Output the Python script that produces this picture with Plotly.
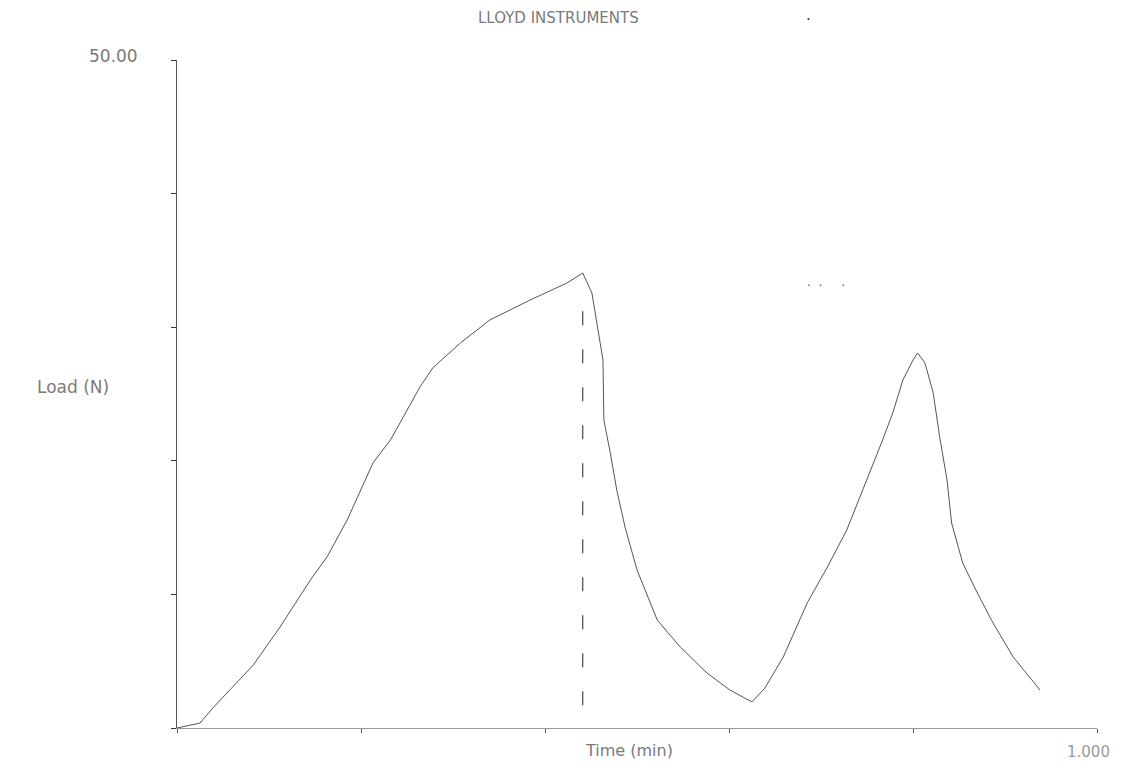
import plotly.graph_objects as go

# Load trace (Time in min, Load in N)
time_min = [0.000, 0.025, 0.039, 0.083, 0.112, 0.145, 0.163, 0.185, 0.213, 0.232,
            0.246, 0.264, 0.278, 0.308, 0.340, 0.384, 0.424, 0.441, 0.451, 0.458,
            0.463, 0.464, 0.471, 0.478, 0.487, 0.500, 0.522, 0.547, 0.576, 0.601,
            0.625, 0.639, 0.659, 0.685, 0.707, 0.728, 0.750, 0.767, 0.778, 0.789,
            0.800, 0.805, 0.813, 0.822, 0.829, 0.837, 0.842, 0.854, 0.870, 0.887,
            0.909, 0.938]
load_n = [0.00, 0.37, 1.50, 4.72, 7.56, 11.08, 12.80, 15.57, 19.84, 21.56,
          23.28, 25.52, 26.95, 28.82, 30.54, 32.04, 33.31, 34.06, 32.56, 29.79,
          27.54, 23.05, 20.58, 17.81, 15.04, 11.83, 8.08, 6.06, 4.12, 2.84,
          1.95, 2.99, 5.31, 9.36, 12.05, 14.82, 18.56, 21.56, 23.58, 26.05,
          27.54, 28.07, 27.32, 25.07, 21.78, 18.56, 15.34, 12.35, 10.10, 7.86,
          5.31, 2.84]

marker_time = [0.441, 0.441]
marker_load = [1.7, 31.3]

x_ticks = [0.0, 0.2, 0.4, 0.6, 0.8, 1.0]
y_ticks = [0, 10, 20, 30, 40, 50]
y_max_label = "50.00"
x_max_label = "1.000"

fig = go.Figure()
fig.add_trace(go.Scatter(x=time_min, y=load_n, mode="lines",
                         line=dict(color="#555555", width=1), showlegend=False))
fig.add_trace(go.Scatter(x=marker_time, y=marker_load, mode="lines",
                         line=dict(color="#444444", width=1.2, dash="14px,24px"),
                         showlegend=False))

fnt = "DejaVu Sans"
gray = "#7a7a7a"
fig.update_layout(
    width=1139, height=778,
    margin=dict(l=177, r=42, t=60, b=50),
    paper_bgcolor="white", plot_bgcolor="white",
    xaxis=dict(range=[0, 1.0], tickvals=x_ticks, showticklabels=False,
               ticks="outside", ticklen=4, tickcolor="#555", showgrid=False,
               zeroline=False, showline=True, linecolor="#999", linewidth=1),
    yaxis=dict(range=[0, 50], tickvals=y_ticks, showticklabels=False,
               ticks="outside", ticklen=5, tickcolor="#333", showgrid=False,
               zeroline=False, showline=True, linecolor="#555", linewidth=1),
    annotations=[
        dict(text="LLOYD INSTRUMENTS", xref="paper", yref="paper", x=0.415, y=1.0,
             yshift=42, showarrow=False, font=dict(family=fnt, size=15, color=gray),
             xanchor="center", yanchor="middle"),
        dict(text=".", xref="paper", yref="paper", x=0.686, y=1.0,
             yshift=45, showarrow=False, font=dict(family=fnt, size=15, color="#333"),
             xanchor="center", yanchor="middle"),
        dict(text=".  .     .", xref="paper", yref="paper", x=0.705, y=0.667,
             showarrow=False, font=dict(family=fnt, size=12, color="#555"),
             xanchor="center", yanchor="middle"),
        dict(text=y_max_label, xref="paper", yref="paper", x=0, y=1.0, xshift=-37,
             yshift=4, showarrow=False, font=dict(family=fnt, size=17, color=gray),
             xanchor="right", yanchor="middle"),
        dict(text="Load (N)", xref="paper", yref="paper", x=0, y=0.51, xshift=-66,
             showarrow=False, font=dict(family=fnt, size=17, color=gray),
             xanchor="right", yanchor="middle"),
        dict(text="Time (min)", xref="paper", yref="paper", x=0.491, y=0, yshift=-22,
             showarrow=False, font=dict(family=fnt, size=16, color=gray),
             xanchor="center", yanchor="middle"),
        dict(text=x_max_label, xref="paper", yref="paper", x=1.0, y=0, yshift=-24,
             xshift=-32, showarrow=False, font=dict(family=fnt, size=15, color="#999"),
             xanchor="left", yanchor="middle"),
    ],
)

fig.write_html("out.html")
